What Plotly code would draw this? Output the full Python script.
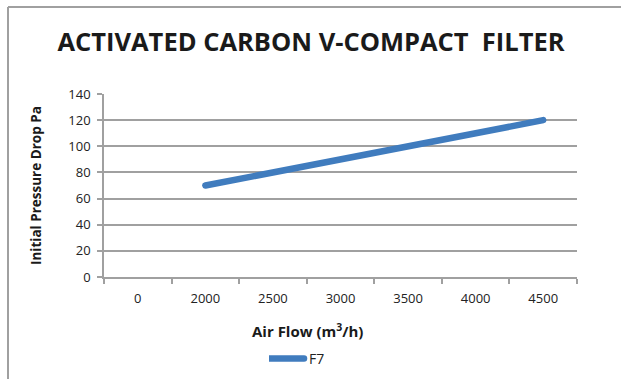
import plotly.graph_objects as go

categories = ["0", "2000", "2500", "3000", "3500", "4000", "4500"]
f7_values = [None, 70, 80, 90, 100, 110, 120]
y_ticks = [0, 20, 40, 60, 80, 100, 120, 140]

FONT = "Open Sans"
GRID = "#a0a0a0"
BLUE = "#407CBE"

L, R, T, B = 104, 44, 94, 102
W, H = 621, 379
pw, ph = W - L - R, H - T - B

def px_x(px):
    return (px - L) / pw

def px_y(py):
    return (H - B - py) / ph

fig = go.Figure()
fig.add_trace(go.Scatter(
    x=categories, y=f7_values, name="F7", mode="lines",
    line=dict(color=BLUE, width=6.5),
))

fig.update_layout(
    width=W, height=H,
    margin=dict(l=L, r=R, t=T, b=B, autoexpand=False),
    paper_bgcolor="white", plot_bgcolor="white",
    font=dict(family=FONT, size=13, color="#222222"),
    title=dict(text="<b>ACTIVATED CARBON V-COMPACT  FILTER</b>",
               x=311 / W, xanchor="center", y=1 - 42 / H, yanchor="middle",
               font=dict(family=FONT, size=25.5, color="#1a1a1a")),
    showlegend=True,
    legend=dict(orientation="h", x=px_x(269), xanchor="left", y=px_y(359), yanchor="middle",
                font=dict(family=FONT, size=14, color="#222222"), bgcolor="rgba(0,0,0,0)"),
    xaxis=dict(type="category", categoryorder="array", categoryarray=categories,
               range=[-0.5, len(categories) - 0.5],
               showgrid=False, showline=True, linecolor=GRID, linewidth=1.5,
               ticks="outside", tickson="boundaries", ticklen=5, tickcolor=GRID, tickwidth=1.5,
               tickfont=dict(family=FONT, size=13, color="#222222"), zeroline=False,
               ticklabelstandoff=9, fixedrange=True),
    yaxis=dict(range=[0, 140], tickvals=y_ticks, showgrid=True, gridcolor=GRID, gridwidth=1.5,
               showline=True, linecolor=GRID, linewidth=1.5, ticks="outside", ticklen=5,
               tickcolor=GRID, tickwidth=1.5, zeroline=False,
               tickfont=dict(family=FONT, size=13, color="#222222"), ticklabelstandoff=4),
    annotations=[
        dict(text="<b>Air Flow (m<sup>3</sup>/h)</b>", xref="paper", yref="paper",
             x=px_x(307), y=px_y(330), xanchor="center", yanchor="middle", showarrow=False,
             font=dict(family=FONT, size=15, color="#1a1a1a")),
        dict(text="<b>Initial Pressure Drop Pa</b>", xref="paper", yref="paper",
             x=px_x(36), y=px_y(186), xanchor="center", yanchor="middle", showarrow=False,
             textangle=-90, font=dict(family=FONT, size=13.5, color="#1a1a1a")),
    ],
    shapes=[
        dict(type="line", xref="paper", yref="paper", x0=px_x(8), x1=px_x(640),
             y0=px_y(7), y1=px_y(7), line=dict(color="#a0a0a0", width=2)),
        dict(type="line", xref="paper", yref="paper", x0=px_x(8), x1=px_x(8),
             y0=px_y(7), y1=px_y(400), line=dict(color="#a0a0a0", width=2)),
    ],
)

post = (
    "document.body.style.margin='0';document.body.style.overflow='hidden';"
    "document.documentElement.style.overflow='hidden';"
    "document.querySelectorAll('.scatterlayer .js-line').forEach(function(p){p.style.strokeLinecap='round';});"
    "document.querySelectorAll('.legendlines path').forEach(function(p){p.setAttribute('d','M-2,0h37');p.style.strokeLinecap='round';});"
)

fig.write_html("out.html", config={"displayModeBar": False}, post_script=post)
